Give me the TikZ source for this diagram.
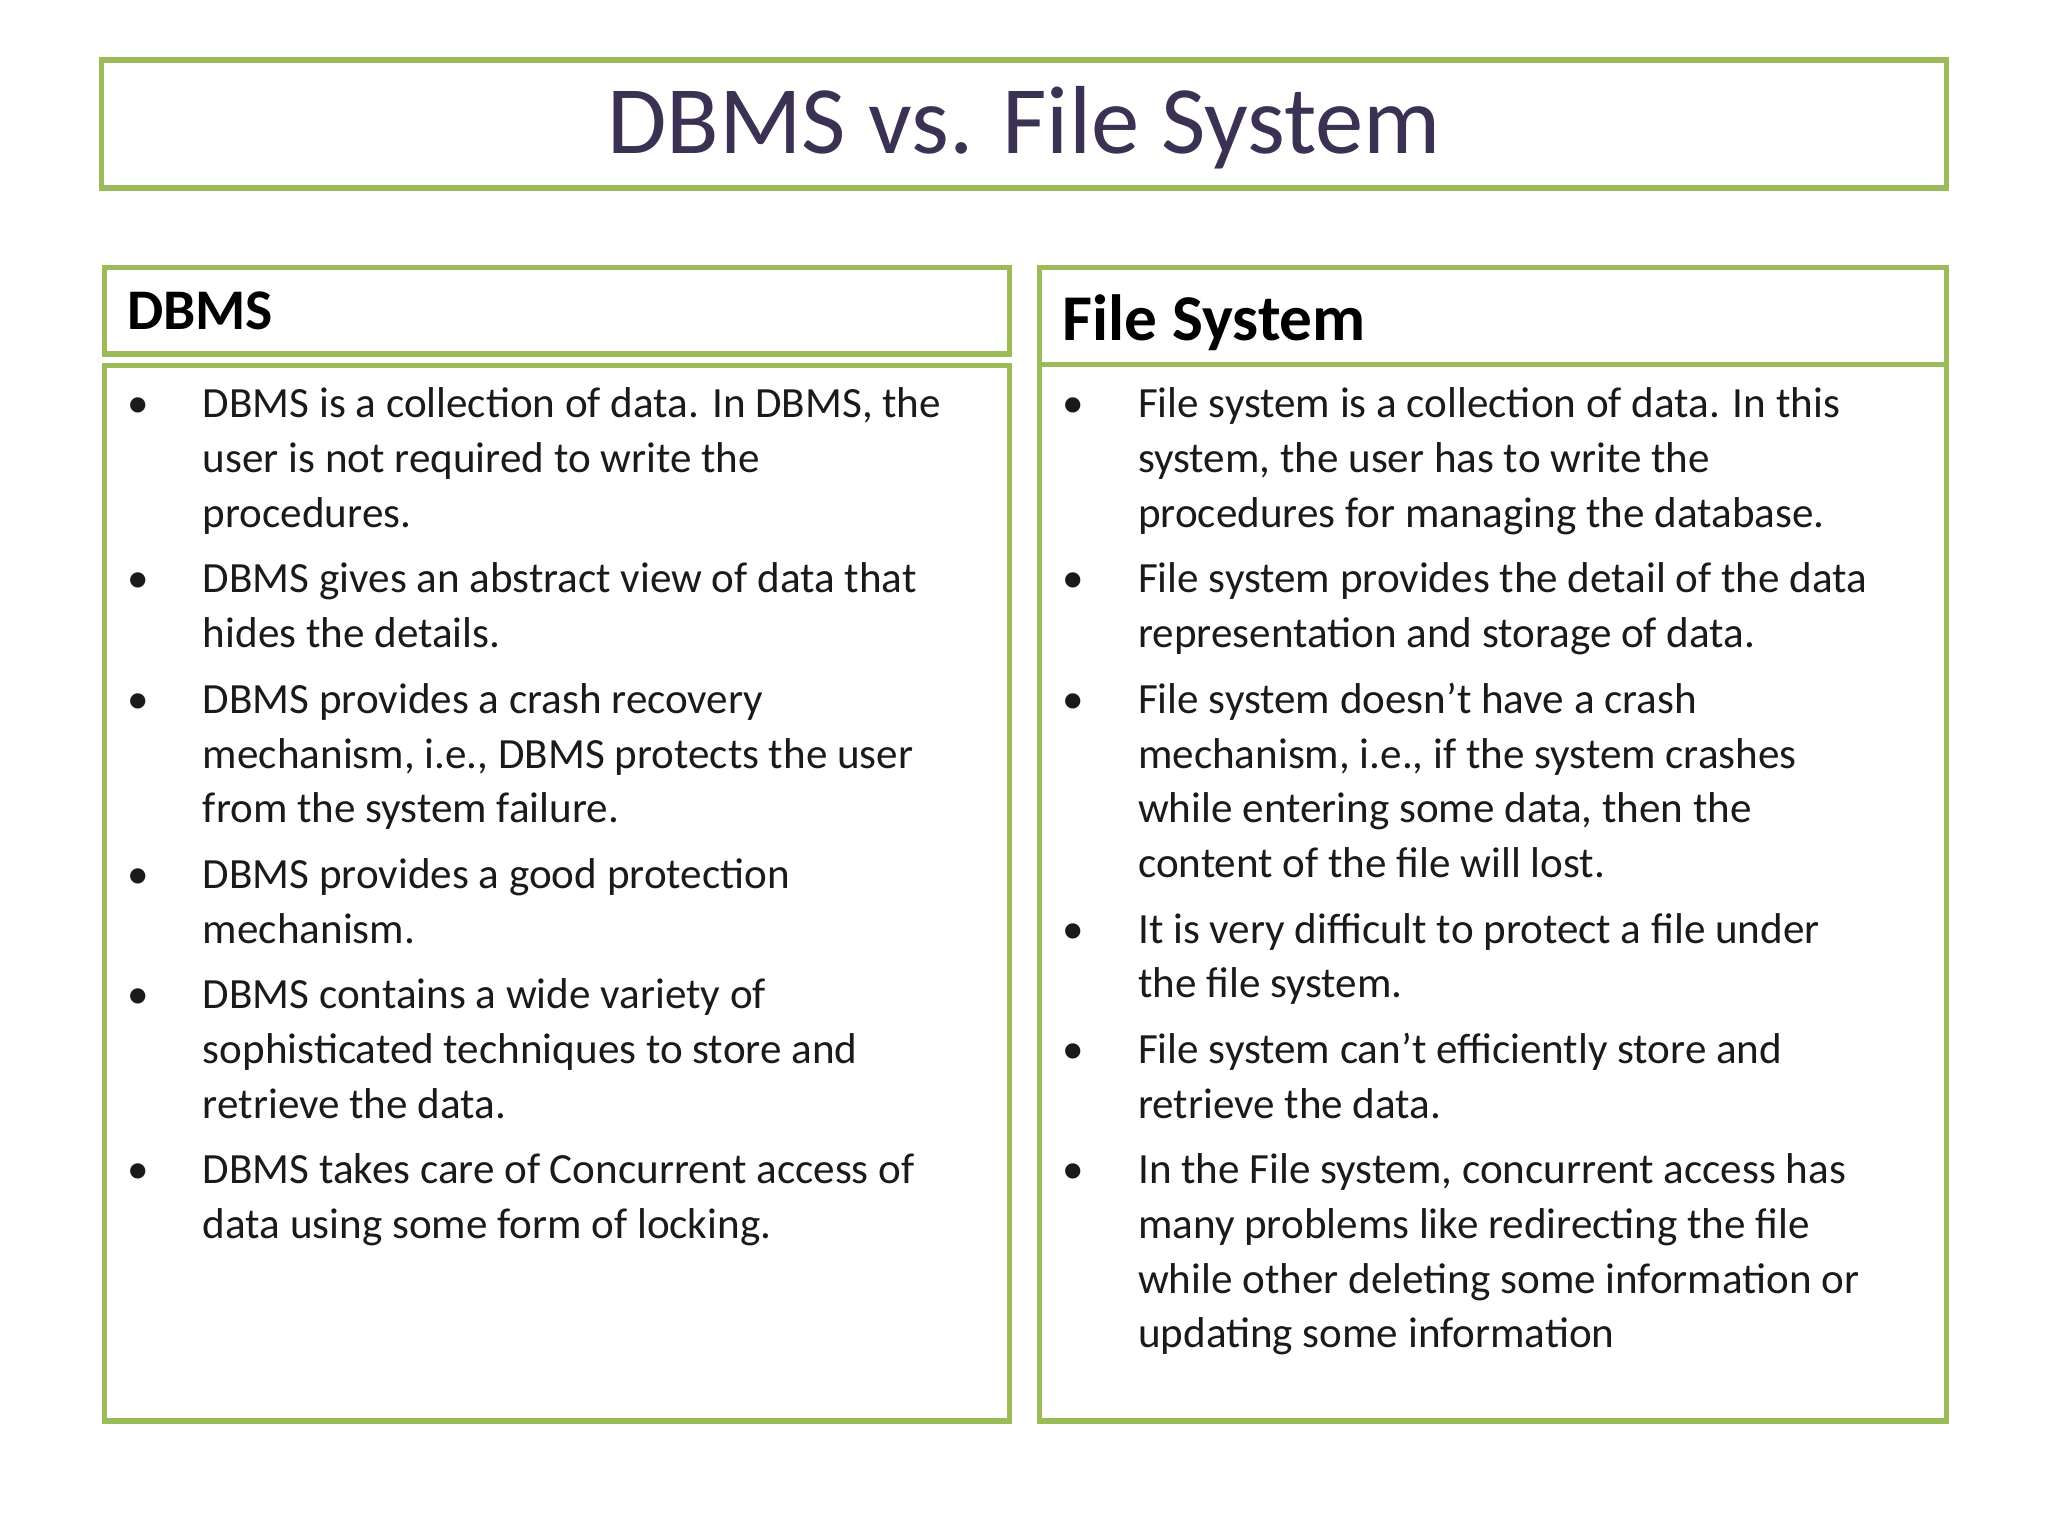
\documentclass[tikz,border=0pt]{standalone}
\usepackage{fontspec}
\setmainfont{Carlito}
\definecolor{grn}{HTML}{9BBB59}
\definecolor{ttl}{HTML}{3B3152}
\definecolor{txt}{HTML}{1A1A1A}
\tikzset{frame/.style={draw=grn,line width=2pt},
 tl/.style={anchor=base west,inner sep=0,font=\fontsize{16.5}{20}\selectfont,text=txt},
 bl/.style={anchor=base west,inner sep=0,font=\fontsize{16.5}{20}\selectfont,text=txt}}
\newcommand{\tline}[3]{\node[tl] at (#1,-#2-11) {#3};}
\newcommand{\bul}[2]{\node[bl] at (#1,-#2-11) {\textbullet};}
\begin{document}
\begin{tikzpicture}[x=0.5pt,y=0.5pt]
\fill[white] (0,0) rectangle (1568,-1176);
\node[frame,minimum width=706pt,minimum height=49pt,inner sep=0] (title) at (784,-95) {};
\node[font=\fontsize{37}{40}\selectfont,text=ttl] (tt) at (784,-98) {DBMS vs. File System};
\draw[frame] (80,-205) rectangle (773,-271);
\draw[frame] (80,-280) rectangle (773,-1088);
\draw[frame] (796,-205) rectangle (1490,-279);
\draw[frame] (796,-279) rectangle (1490,-1088);
\node[anchor=base west,inner sep=0,font=\fontsize{22}{24}\selectfont\bfseries] (h1) at (97,-252) {DBMS};
\node[anchor=base west,inner sep=0,font=\fontsize{25}{28}\selectfont\bfseries] (h2) at (813,-261) {File System};
% left
\foreach \y in {309,443,535,669,761,895} {\bul{97}{\y}}
\tline{155}{309}{DBMS is a collection of data. In DBMS, the}
\tline{155}{351}{user is not required to write the}
\tline{155}{393}{procedures.}
\tline{155}{443}{DBMS gives an abstract view of data that}
\tline{155}{485}{hides the details.}
\tline{155}{535}{DBMS provides a crash recovery}
\tline{155}{577}{mechanism, i.e., DBMS protects the user}
\tline{155}{619}{from the system failure.}
\tline{155}{669}{DBMS provides a good protection}
\tline{155}{711}{mechanism.}
\tline{155}{761}{DBMS contains a wide variety of}
\tline{155}{803}{sophisticated techniques to store and}
\tline{155}{845}{retrieve the data.}
\tline{155}{895}{DBMS takes care of Concurrent access of}
\tline{155}{937}{data using some form of locking.}
% right
\foreach \y in {309,443,535,711,803,895} {\bul{813}{\y}}
\tline{871}{309}{File system is a collection of data. In this}
\tline{871}{351}{system, the user has to write the}
\tline{871}{393}{procedures for managing the database.}
\tline{871}{443}{File system provides the detail of the data}
\tline{871}{485}{representation and storage of data.}
\tline{871}{535}{File system doesn't have a crash}
\tline{871}{577}{mechanism, i.e., if the system crashes}
\tline{871}{619}{while entering some data, then the}
\tline{871}{661}{content of the file will lost.}
\tline{871}{711}{It is very difficult to protect a file under}
\tline{871}{753}{the file system.}
\tline{871}{803}{File system can't efficiently store and}
\tline{871}{845}{retrieve the data.}
\tline{871}{895}{In the File system, concurrent access has}
\tline{871}{937}{many problems like redirecting the file}
\tline{871}{979}{while other deleting some information or}
\tline{871}{1021}{updating some information}
\end{tikzpicture}
\end{document}
